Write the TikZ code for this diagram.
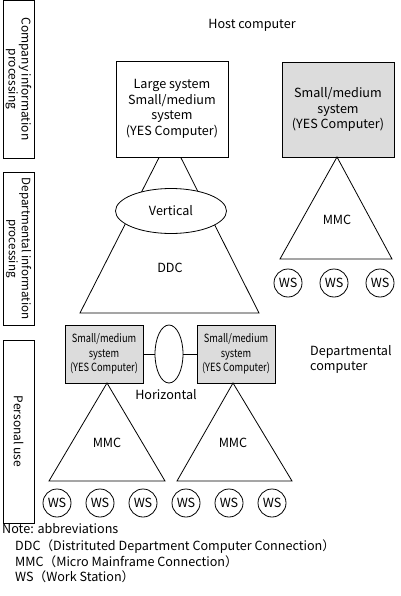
\documentclass[tikz,border=0pt]{standalone}
\usepackage{fontspec}
\setmainfont{Noto Sans CJK JP}
\newfontfamily\condfont[FakeStretch=0.82]{Noto Sans CJK JP}
\usetikzlibrary{shapes.geometric}
\definecolor{boxgray}{HTML}{DCDCDC}
\begin{document}
\begin{tikzpicture}[x=1pt,y=-1pt,
  every node/.style={font=\fontsize{12.6}{15.5}\selectfont, inner sep=0pt},
  lbl/.style={draw, line width=0.9pt, rotate=-90, align=center, minimum height=31, font=\fontsize{12}{13}\selectfont},
  sysbox/.style={draw, line width=0.9pt, align=center, minimum width=112, minimum height=96},
  graybox/.style={draw, line width=0.9pt, fill=boxgray, align=center},
  tri/.style={draw, line width=0.8pt, line join=miter},
  ws/.style={draw, circle, line width=0.8pt, minimum size=28, font=\fontsize{12.6}{14}\selectfont},
  link/.style={draw, line width=0.9pt},
  ell/.style={draw, ellipse, line width=0.8pt, fill=white}
]
\useasboundingbox (0,0) rectangle (400,596);

% left category labels
\node[lbl, minimum width=158] (cip) at (18.5,79) {Company information\\processing};
\node[lbl, minimum width=153, font=\fontsize{11.6}{13}\selectfont] (dip) at (18.5,248.5) {Departmental information\\processing};
\node[lbl, minimum width=183] (pu) at (18.5,431.5) {Personal use};

\node (host) at (252,25) {Host computer};

% DDC triangle (behind)
\coordinate (ddcA) at (170,136);
\coordinate (ddcL) at (80,313);
\coordinate (ddcR) at (259,313);
\path[tri] (ddcA) -- (ddcL) -- (ddcR) -- cycle;
\node (ddc) at (170,268) {DDC};

% large system box
\node[sysbox, fill=white] (large) at (172,109) {Large system\\Small/medium\\system\\(YES Computer)};
\node[ell, minimum width=111, minimum height=45] (vert) at (171,211) {Vertical};

% right host
\node[sysbox, fill=boxgray, minimum height=95] (small) at (338,109.5) {Small/medium\\system\\(YES Computer)};
\coordinate (mA) at (337,157);
\coordinate (mL) at (280,259);
\coordinate (mR) at (392,259);
\path[tri] (mA) -- (mL) -- (mR) -- cycle;
\node (mmc0) at (337,220) {MMC};
\node[ws] (w1) at (288,283) {WS};
\node[ws] (w2) at (334,283) {WS};
\node[ws] (w3) at (380,283) {WS};

% departmental computers
\node[graybox, minimum width=78, minimum height=58, font=\condfont\fontsize{11.3}{14.5}\selectfont] (dL) at (104,354) {Small/medium\\system\\(YES Computer)};
\node[graybox, minimum width=78, minimum height=58, font=\condfont\fontsize{11.3}{14.5}\selectfont] (dR) at (236,354) {Small/medium\\system\\(YES Computer)};
\node[ell, minimum width=28, minimum height=58, fill=none] (hor) at (169,354) {};
\path[link] (dL.east) -- (hor.west);
\path[link] (hor.east) -- (dR.west);
\node (horl) at (166,395) {Horizontal};
\node[anchor=west, align=left] (dept) at (310,359.5) {Departmental\\computer};

\coordinate (bA1) at (107,383);
\coordinate (bL1) at (49,481);
\coordinate (bR1) at (165,481);
\path[tri] (bA1) -- (bL1) -- (bR1) -- cycle;
\node (mmc1) at (107,443) {MMC};
\coordinate (bA2) at (233,383);
\coordinate (bL2) at (177,481);
\coordinate (bR2) at (292,481);
\path[tri] (bA2) -- (bL2) -- (bR2) -- cycle;
\node (mmc2) at (233,443) {MMC};

\node[ws] (b1) at (57,503) {WS};
\node[ws] (b2) at (100,503) {WS};
\node[ws] (b3) at (143,503) {WS};
\node[ws] (b4) at (186,503) {WS};
\node[ws] (b5) at (229,503) {WS};
\node[ws] (b6) at (272,503) {WS};

% notes
\node[anchor=west] (n0) at (2,529) {Note: abbreviations};
\node[anchor=west] (n1) at (15,547) {DDC（Distrituted Department Computer Connection）};
\node[anchor=west] (n2) at (15,562) {MMC（Micro Mainframe Connection）};
\node[anchor=west] (n3) at (15,577) {WS（Work Station）};
\end{tikzpicture}
\end{document}
